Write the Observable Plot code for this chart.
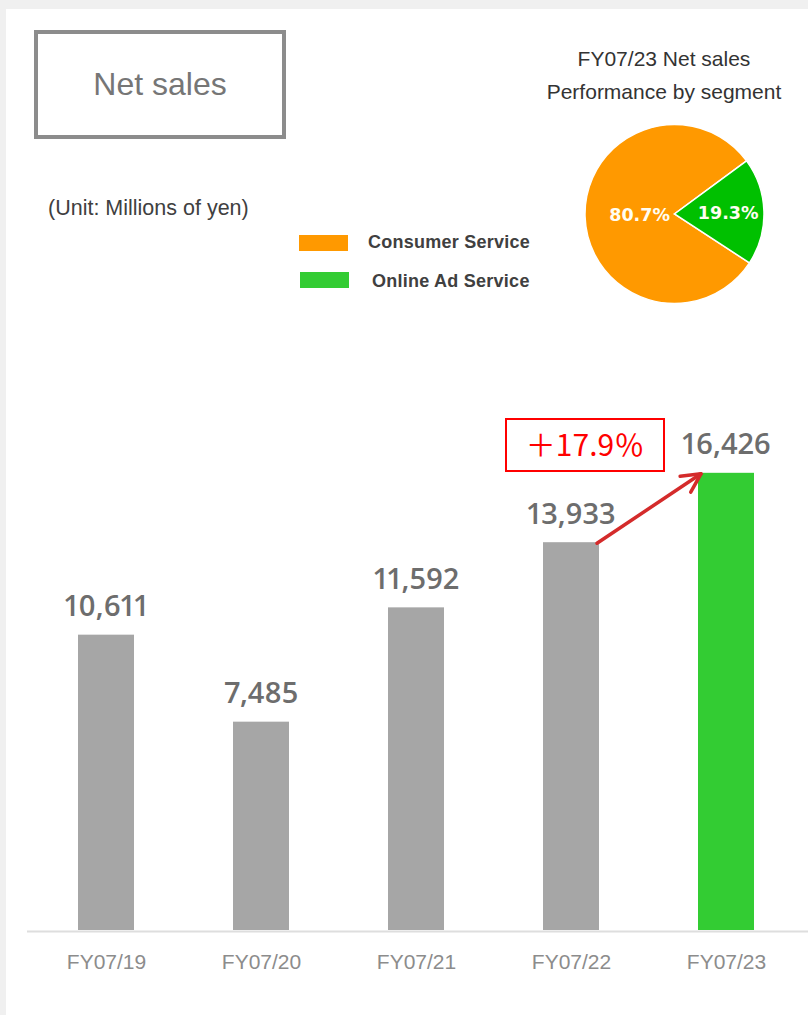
<!DOCTYPE html>
<html>
<head>
<meta charset="utf-8">
<script src="https://cdn.jsdelivr.net/npm/d3@7"></script>
<script src="https://cdn.jsdelivr.net/npm/@observablehq/plot@0.6"></script>
<style>
  html, body { margin: 0; padding: 0; }
  body { width: 808px; height: 1015px; background: #f0f0f0; position: relative; overflow: hidden; font-family: "Liberation Sans", Arial, sans-serif; }
  #panel { position: absolute; left: 6px; top: 9px; right: 0; bottom: 0; background: #ffffff; }
  .abs { position: absolute; white-space: nowrap; }
  #titlebox { left: 34px; top: 30px; width: 252px; height: 109px; box-sizing: border-box; border: 4px solid #8c8c8c;
    display: flex; align-items: center; justify-content: center; font-size: 32px; color: #767676; }
  #unit { left: 48px; top: 198px; font-size: 21.5px; line-height: 21.5px; color: #404040; }
  #pietitle { left: 514px; top: 42px; width: 300px; text-align: center; font-size: 21px; line-height: 33px; color: #333333; }
  .swatch { position: absolute; width: 49px; height: 16px; }
  .legtext { position: absolute; font-size: 18px; line-height: 18px; font-weight: bold; color: #404040; white-space: nowrap; letter-spacing: 0.25px; }
  #growth { left: 505px; top: 418px; width: 160px; height: 54px; box-sizing: border-box; border: 2px solid #ff0000;
    display: flex; align-items: center; justify-content: center; padding-bottom: 4px;
    font-family: "Noto Sans CJK JP", sans-serif; font-size: 30px; color: #ff0000; }
  #main { position: absolute; left: 0; top: 0; }
  #pie { position: absolute; left: 580px; top: 119px; }
  .vlabel text { font-variant-numeric: proportional-nums; }
</style>
</head>
<body>
<div id="panel"></div>
<div id="titlebox" class="abs"></div>
<div id="unit" class="abs"></div>
<div id="pietitle" class="abs"></div>
<div id="legend"></div>
<div id="growth" class="abs"></div>
<div id="main"></div>
<div id="pie"></div>
<script>
// ---- data ----
const fiscalYears = ["FY07/19", "FY07/20", "FY07/21", "FY07/22", "FY07/23"];
const netSales = [10611, 7485, 11592, 13933, 16426];
const highlightYear = "FY07/23";
const segments = ["Consumer Service", "Online Ad Service"];
const segmentShares = [80.7, 19.3];
const segmentShareLabels = ["80.7%", "19.3%"];
const growthFrom = "FY07/22";
const growthTo = "FY07/23";
const growthLabel = "＋17.9％";
const chartTitle = "Net sales";
const unitText = "(Unit: Millions of yen)";
const pieTitleLines = ["FY07/23 Net sales", "Performance by segment"];

// ---- styles ----
const barGray = "#a6a6a6";
const barGreen = "#33cc33";
const pieColors = ["#ff9900", "#00c000"];
const legendColors = ["#ff9900", "#33cc33"];
const labelRadiusFrac = [0.39, 0.6];

// ---- texts ----
document.getElementById("titlebox").textContent = chartTitle;
document.getElementById("unit").textContent = unitText;
document.getElementById("pietitle").innerHTML = pieTitleLines.map(s => `<div>${s}</div>`).join("");
document.getElementById("growth").textContent = growthLabel;

const legendPos = [{sx: 299, sy: 235, tx: 368, ty: 233}, {sx: 300, sy: 272, tx: 372, ty: 272}];
const legend = document.getElementById("legend");
segments.forEach((s, i) => {
  const sw = document.createElement("div");
  sw.className = "swatch";
  sw.style.left = legendPos[i].sx + "px";
  sw.style.top = legendPos[i].sy + "px";
  sw.style.background = legendColors[i];
  legend.appendChild(sw);
  const t = document.createElement("div");
  t.className = "legtext";
  t.style.left = legendPos[i].tx + "px";
  t.style.top = legendPos[i].ty + "px";
  t.textContent = s;
  legend.appendChild(t);
});

// ---- bar chart ----
const rows = fiscalYears.map((fy, i) => ({fy, value: netSales[i]}));
const fmt = d3.format(",");

function growthArrow(index, scales) {
  const x = scales.x, y = scales.y;
  const bw = typeof x.bandwidth === "function" ? x.bandwidth() : 0;
  const v1 = netSales[fiscalYears.indexOf(growthFrom)];
  const v2 = netSales[fiscalYears.indexOf(growthTo)];
  const x1 = x(growthFrom) + bw - 2, y1 = y(v1) + 1;
  const x2 = x(growthTo) + 3, y2 = y(v2) + 1;
  const ang = Math.atan2(y2 - y1, x2 - x1) + Math.PI;
  const L = 21, a = 27 * Math.PI / 180;
  const w1 = [x2 + L * Math.cos(ang - a), y2 + L * Math.sin(ang - a)];
  const w2 = [x2 + L * Math.cos(ang + a), y2 + L * Math.sin(ang + a)];
  const g = d3.create("svg:g")
    .attr("fill", "none").attr("stroke", "#d42b2b").attr("stroke-width", 3.5)
    .attr("stroke-linecap", "round").attr("stroke-linejoin", "round");
  g.append("path").attr("d", `M${x1},${y1}L${x2},${y2}`);
  g.append("path").attr("d", `M${w1[0]},${w1[1]}L${x2},${y2}L${w2[0]},${w2[1]}`);
  return g.node();
}

const main = Plot.plot({
  width: 808,
  height: 1015,
  marginTop: 429,
  marginBottom: 85,
  marginLeft: 27,
  marginRight: 0,
  style: {background: "transparent", overflow: "visible"},
  x: {type: "band", domain: fiscalYears, range: [27, 805], paddingInner: 0.64, paddingOuter: 0.32, label: null},
  y: {domain: [0, 18000], axis: null},
  color: {type: "identity"},
  marks: [
    Plot.ruleY([0], {stroke: "#dedede", strokeWidth: 2, dy: 1}),
    Plot.barY(rows, {x: "fy", y: "value", fill: d => d.fy === highlightYear ? barGreen : barGray}),
    Plot.text(rows, {
      x: "fy", y: "value", text: d => fmt(d.value), dy: -19, lineAnchor: "bottom",
      fontSize: 29, fontWeight: 600, fontFamily: "'Open Sans', 'Noto Sans', sans-serif", fill: "#6d6d6d",
      className: "vlabel"
    }),
    Plot.axisX({tickSize: 0, tickPadding: 24, fontSize: 21, fontFamily: "'Liberation Sans', Arial, sans-serif", color: "#8c8c8c", label: null}),
    growthArrow
  ]
});
document.getElementById("main").appendChild(main);

// ---- pie ----
const pieSize = 190, R = 89.5;
const pieStart = 123.1 * Math.PI / 180;
const pieData = segments.map((s, i) => ({segment: s, share: segmentShares[i], label: segmentShareLabels[i], color: pieColors[i], lr: labelRadiusFrac[i]}));

function pieMark() {
  const arcs = d3.pie().sort(null).value(d => d.share).startAngle(pieStart).endAngle(pieStart + 2 * Math.PI)(pieData);
  const arc = d3.arc().innerRadius(0).outerRadius(R);
  const g = d3.create("svg:g").attr("transform", `translate(${pieSize / 2 - 0.5},${pieSize / 2})`);
  g.selectAll("path").data(arcs).join("path")
    .attr("d", arc).attr("fill", d => d.data.color).attr("stroke", "#ffffff").attr("stroke-width", 1.5);
  g.selectAll("text").data(arcs).join("text")
    .attr("x", d => { const m = (d.startAngle + d.endAngle) / 2; return Math.sin(m) * R * d.data.lr; })
    .attr("y", d => { const m = (d.startAngle + d.endAngle) / 2; return -Math.cos(m) * R * d.data.lr; })
    .attr("dy", "0.36em").attr("text-anchor", "middle")
    .attr("font-family", "'DejaVu Sans', Verdana, sans-serif").attr("font-weight", "bold").attr("font-size", 17.5)
    .attr("fill", "#fffdf2")
    .text(d => d.data.label);
  return g.node();
}

const pie = Plot.plot({
  width: pieSize, height: pieSize, margin: 0,
  style: {background: "transparent", overflow: "visible"},
  marks: [pieMark]
});
document.getElementById("pie").appendChild(pie);
</script>
</body>
</html>
